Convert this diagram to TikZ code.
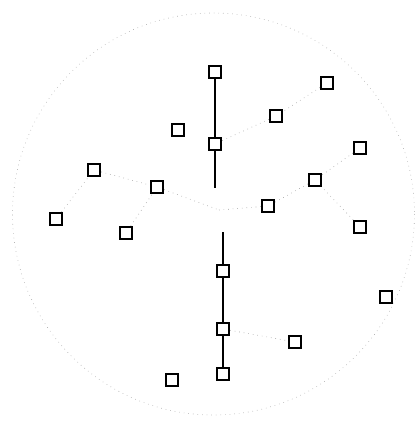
\documentclass[tikz,border=0pt]{standalone}
\usepackage{tikz}
\usetikzlibrary{arrows}

\begin{document}
\begin{tikzpicture}[x=1pt,y=-1pt,
    box/.style={draw,line width=1.8pt,minimum size=12.5pt,inner sep=0pt,fill=white},
    trunk/.style={line width=1.6pt},
    faint/.style={gray!80,loosely dotted,line width=0.6pt}]
        \useasboundingbox (0,0) rectangle (419,447);
        % outer ring
        \draw[gray!70,loosely dotted,line width=0.6pt] (213.5,214) circle (201);
        % centre gap
        \coordinate (hub) at (219,210);
        \coordinate (upend) at (215,188);
        \coordinate (lowstart) at (223,232);
        % squares
        \foreach \name/\x/\y in {t1/215/72,t2/215/144,a1/327/83,a2/276/116,
            u1/178/130,b1/360/148,b2/315/180,b3/268/206,b4/360/227,
            c1/94/170,c2/157/187,c3/56/219,c4/126/233,
            l1/223/271,l2/223/329,l3/223/374,d1/295/342,e1/386/297,f1/172/380}{
            \node[box] (\name) at (\x,\y) {};
        }
        % solid trunks
        \draw[trunk] (t1) -- (t2) -- (upend);
        \draw[trunk] (lowstart) -- (l1) -- (l2) -- (l3);
        % dotted links
        \draw[faint] (a1) -- (a2) -- (t2);
        \draw[faint] (b1) -- (b2) -- (b3) -- (hub);
        \draw[faint] (b4) -- (b2);
        \draw[faint] (c1) -- (c2) -- (hub);
        \draw[faint] (c3) -- (c1);
        \draw[faint] (c4) -- (c2);
        \draw[faint] (l2) -- (d1);
    \end{tikzpicture}
\end{document}
